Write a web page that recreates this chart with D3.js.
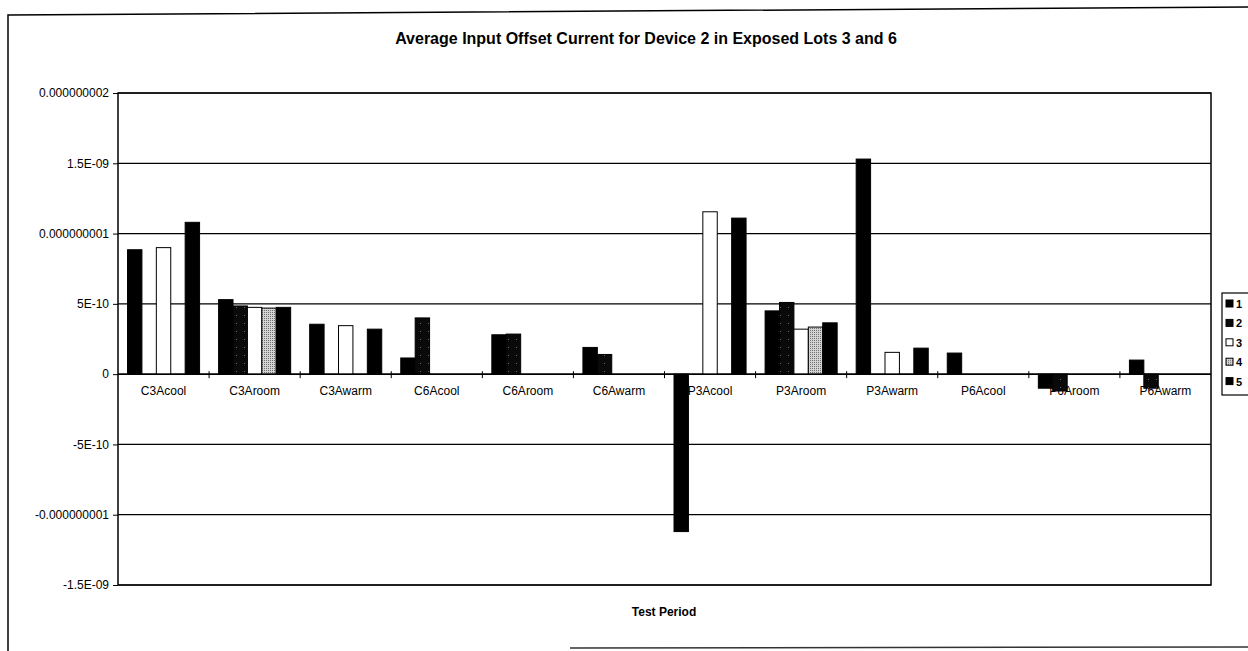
<!DOCTYPE html>
<html>
<head>
<meta charset="utf-8">
<script src="https://cdn.jsdelivr.net/npm/d3@7/dist/d3.min.js"></script>
<style>
    body { margin: 0; background: #fff; }
    text { font-family: "Liberation Sans", Arial, sans-serif; }
</style>
</head>
<body>
<div id="chart"></div>
<script>
const categories = ['C3Acool', 'C3Aroom', 'C3Awarm', 'C6Acool', 'C6Aroom', 'C6Awarm',
                    'P3Acool', 'P3Aroom', 'P3Awarm', 'P6Acool', 'P6Aroom', 'P6Awarm'];
const seriesNames = ['1', '2', '3', '4', '5'];

// values in amps, null = no bar
const series1 = [8.85e-10, 5.3e-10, 3.55e-10, 1.15e-10, 2.8e-10, 1.9e-10, -1.12e-9, 4.5e-10, 1.53e-9, 1.5e-10, -1.0e-10, 1.0e-10];
const series2 = [null, 4.85e-10, null, 4.0e-10, 2.85e-10, 1.4e-10, null, 5.1e-10, null, null, -1.2e-10, -1.0e-10];
const series3 = [9.0e-10, 4.75e-10, 3.45e-10, null, null, null, 1.155e-9, 3.2e-10, 1.55e-10, null, null, null];
const series4 = [null, 4.7e-10, null, null, null, null, null, 3.35e-10, null, null, null, null];
const series5 = [1.08e-9, 4.75e-10, 3.2e-10, null, null, null, 1.11e-9, 3.65e-10, 1.85e-10, null, null, null];

const yTicks = [2e-9, 1.5e-9, 1e-9, 5e-10, 0, -5e-10, -1e-9, -1.5e-9];
const yTickLabels = ['0.000000002', '1.5E-09', '0.000000001', '5E-10', '0', '-5E-10', '-0.000000001', '-1.5E-09'];

document.addEventListener('DOMContentLoaded', function() {
    const width = 1248;
    const height = 651;
    const plot = { left: 118, right: 1211, top: 93, bottom: 585 };

    const allSeries = [series1, series2, series3, series4, series5];
    const fills = ['#000', 'url(#pat2)', '#fff', 'url(#pat4)', '#000'];

    const svg = d3.select('#chart')
        .append('svg')
        .attr('width', width)
        .attr('height', height);

    // fill patterns
    const defs = svg.append('defs');
    const p2 = defs.append('pattern')
        .attr('id', 'pat2')
        .attr('patternUnits', 'userSpaceOnUse')
        .attr('width', 8).attr('height', 8);
    p2.append('rect').attr('width', 8).attr('height', 8).attr('fill', '#0a0a0a');
    p2.append('rect').attr('x', 4).attr('y', 3).attr('width', 1).attr('height', 1).attr('fill', '#666');

    const p4 = defs.append('pattern')
        .attr('id', 'pat4')
        .attr('patternUnits', 'userSpaceOnUse')
        .attr('width', 2).attr('height', 2);
    p4.append('rect').attr('width', 2).attr('height', 2).attr('fill', '#d4d4d4');
    p4.append('rect').attr('width', 1).attr('height', 1).attr('fill', '#6e6e6e');

    // outer chart frame (scan is slightly tilted)
    svg.append('path')
        .attr('d', `M8,${height} L8,15 L${width},7`)
        .attr('fill', 'none')
        .attr('stroke', '#000')
        .attr('stroke-width', 1.5);
    svg.append('line')
        .attr('x1', 570).attr('x2', width)
        .attr('y1', 648).attr('y2', 647)
        .attr('stroke', '#333')
        .attr('stroke-width', 1.5);

    svg.append('text')
        .attr('x', 646)
        .attr('y', 44)
        .attr('text-anchor', 'middle')
        .style('font-size', '16px')
        .style('font-weight', 'bold')
        .text('Average Input Offset Current for Device 2 in Exposed Lots 3 and 6');

    const x = d3.scaleBand()
        .domain(categories)
        .range([plot.left, plot.right])
        .padding(0);

    const xs = d3.scaleBand()
        .domain(seriesNames)
        .range([0, x.bandwidth()])
        .paddingInner(0)
        .paddingOuter(0.66);

    const y = d3.scaleLinear()
        .domain([-1.5e-9, 2e-9])
        .range([plot.bottom, plot.top]);

    // gridlines
    svg.append('g')
        .selectAll('line')
        .data(yTicks)
        .join('line')
        .attr('x1', plot.left)
        .attr('x2', plot.right)
        .attr('y1', d => y(d))
        .attr('y2', d => y(d))
        .attr('stroke', '#000')
        .attr('stroke-width', 1.2);

    // bars
    const rows = [];
    allSeries.forEach((vals, si) => {
        vals.forEach((v, ci) => {
            if (v !== null) rows.push({ cat: categories[ci], s: seriesNames[si], si: si, v: v });
        });
    });

    svg.append('g')
        .selectAll('rect')
        .data(rows.filter(d => d.v >= 0))
        .join('rect')
        .attr('x', d => x(d.cat) + xs(d.s))
        .attr('y', d => y(d.v))
        .attr('width', xs.bandwidth())
        .attr('height', d => y(0) - y(d.v))
        .attr('fill', d => fills[d.si])
        .attr('stroke', '#000')
        .attr('stroke-width', 1);

    // plot border
    svg.append('rect')
        .attr('x', plot.left)
        .attr('y', plot.top)
        .attr('width', plot.right - plot.left)
        .attr('height', plot.bottom - plot.top)
        .attr('fill', 'none')
        .attr('stroke', '#000')
        .attr('stroke-width', 1.5);

    // y axis
    const yAxis = svg.append('g')
        .attr('transform', `translate(${plot.left},0)`)
        .call(d3.axisLeft(y)
            .tickValues(yTicks)
            .tickSize(5)
            .tickPadding(4)
            .tickFormat((d, i) => yTickLabels[i]));
    yAxis.select('.domain').remove();
    yAxis.selectAll('text')
        .style('font-size', '12px')
        .style('font-family', '"Liberation Sans", Arial, sans-serif')
        .attr('fill', '#000');

    // x axis at zero, cross ticks at category boundaries
    const xAxis = svg.append('g')
        .attr('transform', `translate(0,${y(0)})`);
    xAxis.append('line')
        .attr('x1', plot.left).attr('x2', plot.right)
        .attr('stroke', '#000')
        .attr('stroke-width', 1.5);
    xAxis.selectAll('.tk')
        .data(categories.slice(1))
        .join('line')
        .attr('class', 'tk')
        .attr('x1', d => x(d)).attr('x2', d => x(d))
        .attr('y1', -3).attr('y2', 4)
        .attr('stroke', '#000');
    xAxis.selectAll('.lbl')
        .data(categories)
        .join('text')
        .attr('class', 'lbl')
        .attr('x', d => x(d) + x.bandwidth() / 2)
        .attr('y', 21)
        .attr('text-anchor', 'middle')
        .style('font-size', '12px')
        .text(d => d);

    // negative bars are drawn over the category labels in the original
    svg.append('g')
        .selectAll('rect')
        .data(rows.filter(d => d.v < 0))
        .join('rect')
        .attr('x', d => x(d.cat) + xs(d.s))
        .attr('y', y(0))
        .attr('width', xs.bandwidth())
        .attr('height', d => y(d.v) - y(0))
        .attr('fill', d => fills[d.si])
        .attr('stroke', '#000')
        .attr('stroke-width', 1);

    svg.append('text')
        .attr('x', 664)
        .attr('y', 616)
        .attr('text-anchor', 'middle')
        .style('font-size', '12px')
        .style('font-weight', 'bold')
        .text('Test Period');

    // legend
    const legend = svg.append('g')
        .attr('transform', 'translate(1222,293)');
    legend.append('rect')
        .attr('width', 40)
        .attr('height', 102)
        .attr('fill', '#fff')
        .attr('stroke', '#000')
        .attr('stroke-width', 1.2);
    const item = legend.selectAll('.item')
        .data(seriesNames)
        .join('g')
        .attr('class', 'item')
        .attr('transform', (d, i) => `translate(4,${11 + i * 19.4})`);
    item.append('rect')
        .attr('x', 0)
        .attr('y', -4)
        .attr('width', 7)
        .attr('height', 7)
        .attr('fill', (d, i) => fills[i])
        .attr('stroke', '#000');
    item.append('text')
        .attr('x', 10)
        .attr('y', 4)
        .style('font-size', '11px')
        .style('font-weight', 'bold')
        .text(d => d);
});
</script>
</body>
</html>
